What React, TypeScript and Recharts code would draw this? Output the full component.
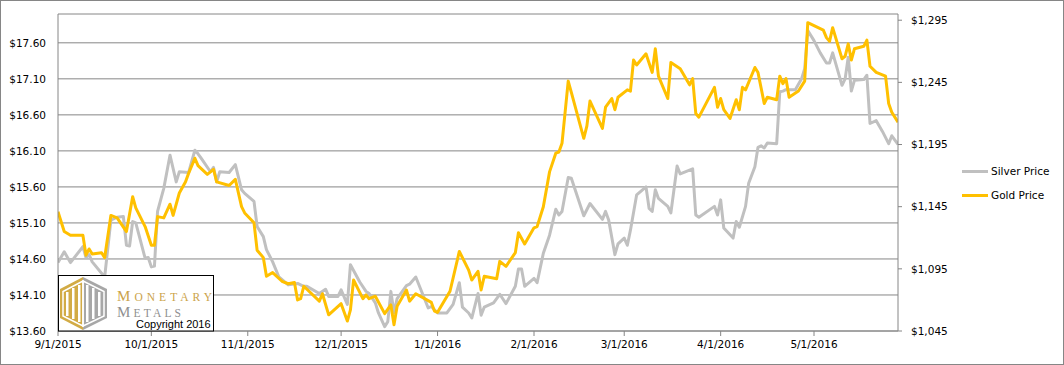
import React from "react";
import { LineChart, Line, XAxis, YAxis, CartesianGrid } from "recharts";

// Day offsets are days since 9/1/2015
const START = Date.UTC(2015, 8, 1);
const tickLabels = ["9/1/2015", "10/1/2015", "11/1/2015", "12/1/2015", "1/1/2016", "2/1/2016", "3/1/2016", "4/1/2016", "5/1/2016"];
const silverTicks = [13.6, 14.1, 14.6, 15.1, 15.6, 16.1, 16.6, 17.1, 17.6];
const goldTicks = [1045, 1095, 1145, 1195, 1245, 1295];

const silverDays = [0,2,4,8,9,10,11,15,17,19,21,22,23,24,25,28,29,30,31,32,34,36,38,39,42,44,45,46,49,50,51,52,55,57,59,60,63,64,66,67,69,71,74,77,79,80,84,86,87,90,91,93,94,97,99,100,102,103,105,106,107,108,109,112,113,115,119,120,122,125,127,129,130,132,133,135,136,137,140,142,144,147,148,149,150,153,154,156,158,160,161,162,164,165,169,171,175,176,177,179,180,182,183,184,186,189,190,191,192,193,196,197,199,200,204,205,206,211,212,213,214,217,218,219,221,222,224,225,226,227,228,231,232,233,234,237,239,240,241,243,245,247,248,249,252,253,254,255,256,259,260,261,263,265,267,268,270];
const silverPrices = [14.55,14.70,14.55,14.77,14.62,14.66,14.56,14.35,15.14,15.18,15.19,14.79,14.78,15.12,15.10,14.61,14.62,14.49,14.50,15.26,15.58,16.04,15.67,15.81,15.80,16.11,16.06,16.00,15.81,15.87,15.67,15.81,15.80,15.91,15.56,15.51,15.40,15.05,14.91,14.73,14.56,14.35,14.24,14.26,14.22,14.22,14.12,14.18,14.08,14.08,14.17,13.97,14.52,14.28,14.15,14.12,13.99,13.85,13.66,13.73,14.15,13.85,14.05,14.23,14.25,14.35,13.92,13.94,13.85,13.85,13.97,14.27,13.93,13.85,13.78,14.12,13.82,13.93,13.99,14.11,13.98,14.22,14.46,14.46,14.22,14.33,14.27,14.68,14.93,15.29,15.21,15.26,15.73,15.72,15.20,15.37,15.15,15.26,15.14,14.66,14.81,14.89,14.79,15.00,15.49,15.60,15.30,15.26,15.56,15.44,15.33,15.24,15.89,15.78,15.85,15.21,15.18,15.33,15.21,15.42,15.03,14.89,15.12,15.04,15.33,15.65,15.88,16.15,16.17,16.14,16.21,16.20,16.92,16.93,16.95,16.95,17.10,17.24,17.77,17.63,17.46,17.32,17.32,17.46,17.01,17.10,17.40,16.93,17.08,17.09,17.15,16.48,16.52,16.37,16.20,16.31,16.19];

const goldDays = [0,2,4,8,9,10,11,14,15,17,19,22,24,25,28,30,31,32,34,36,37,39,41,42,44,45,48,50,51,55,57,59,60,63,64,66,67,69,72,74,76,77,78,79,84,85,87,91,93,94,95,98,99,100,102,105,107,108,109,112,113,115,120,121,122,126,129,132,133,135,136,137,141,142,144,147,148,150,153,154,156,158,160,161,162,164,165,169,170,171,175,176,178,179,180,183,184,185,186,189,191,192,193,196,197,200,203,204,205,206,211,212,213,214,216,218,219,220,221,224,225,227,228,231,232,233,234,235,238,240,241,246,247,248,249,252,253,254,255,256,259,260,261,263,266,267,268,270];
const goldPrices = [1141,1125,1122,1122,1106,1111,1107,1108,1104,1138,1136,1125,1153,1144,1129,1114,1114,1137,1136,1147,1138,1156,1165,1172,1184,1178,1171,1175,1165,1162,1167,1145,1140,1132,1110,1104,1089,1092,1085,1083,1084,1070,1071,1081,1069,1075,1058,1067,1053,1062,1086,1071,1074,1071,1073,1059,1066,1050,1065,1078,1069,1075,1068,1061,1060,1077,1109,1094,1086,1093,1078,1089,1087,1101,1097,1108,1124,1115,1128,1129,1145,1173,1188,1189,1196,1246,1237,1200,1210,1230,1208,1225,1232,1223,1233,1239,1238,1263,1259,1268,1253,1272,1250,1232,1261,1256,1243,1248,1220,1217,1241,1225,1232,1223,1216,1231,1223,1241,1239,1257,1253,1228,1233,1231,1250,1244,1248,1233,1238,1246,1293,1287,1281,1278,1289,1264,1266,1276,1263,1272,1274,1279,1258,1253,1250,1228,1221,1213];

const toDay = (label: string) => {
  const [m, d, y] = label.split("/").map(Number);
  return Math.round((Date.UTC(y, m - 1, d) - START) / 86400000);
};
const tickDays = tickLabels.map(toDay);
const silverData = silverDays.map((d, i) => ({ d, v: silverPrices[i] }));
const goldData = goldDays.map((d, i) => ({ d, v: goldPrices[i] }));

const AXIS = "#868686";
const FONT = "'DejaVu Sans', Verdana, sans-serif";
const SERIF = "'Liberation Serif', 'Times New Roman', serif";
const tickStyle = { fontSize: 10.5, fill: "#000", fontFamily: FONT };

function Logo() {
  return (
    <svg width={156} height={57} style={{ position: "absolute", left: 58, top: 275 }}>
      <rect x={0.5} y={0.5} width={155} height={55.5} fill="#fff" stroke="#000" strokeWidth={1} />
      <polygon points="25,2 2,14 2,43 25,55" fill="#D2AB45" />
      <polygon points="25,2 49,14 49,43 25,55" fill="#A7A7A7" />
      <polygon points="25,6 5,16.5 5,41 25,51" fill="none" stroke="#fff" strokeWidth={1.5} />
      <polygon points="25,6 46,16.5 46,41 25,51" fill="none" stroke="#fff" strokeWidth={1.5} />
      <rect x={8} y={17} width={2.5} height={24} fill="#fff" />
      <rect x={14} y={13} width={2.5} height={31} fill="#fff" />
      <rect x={20} y={10} width={2.5} height={37} fill="#fff" />
      <rect x={28} y={10} width={2.5} height={37} fill="#fff" />
      <rect x={34} y={13} width={2.5} height={31} fill="#fff" />
      <rect x={40} y={17} width={2.5} height={24} fill="#fff" />
      <text x={59} y={25.5} textLength={95} lengthAdjust="spacing" fill="#CBA34A" style={{ fontFamily: SERIF }}>
        <tspan fontSize={15}>M</tspan><tspan fontSize={11.5}>ONETARY</tspan>
      </text>
      <text x={59} y={41.5} textLength={64} lengthAdjust="spacing" fill="#8F8F8F" style={{ fontFamily: SERIF }}>
        <tspan fontSize={15}>M</tspan><tspan fontSize={11.5}>ETALS</tspan>
      </text>
      <text x={78} y={53} fill="#000" style={{ fontFamily: "'Liberation Sans', Arial, sans-serif", fontSize: 11 }}>Copyright 2016</text>
    </svg>
  );
}

function LegendBox() {
  const items = [
    { label: "Silver Price", color: "#C0C0C0", y: 171 },
    { label: "Gold Price", color: "#FFC000", y: 195 },
  ];
  return (
    <>
      {items.map((it) => (
        <div key={it.label} style={{ position: "absolute", left: 962, top: it.y - 8, height: 16, display: "flex", alignItems: "center" }}>
          <div style={{ width: 26, height: 3, background: it.color }} />
          <span style={{ marginLeft: 3, fontFamily: FONT, fontSize: 10.5, color: "#000", whiteSpace: "nowrap" }}>{it.label}</span>
        </div>
      ))}
    </>
  );
}

export default function App() {
  return (
    <div style={{ position: "absolute", left: 0, top: 0, width: 1064, height: 365, background: "#fff", fontFamily: FONT }}>
      <LineChart width={1064} height={365} data={silverData} margin={{ top: 14, right: 86, bottom: 4, left: 8 }}>
        <CartesianGrid yAxisId="s" vertical={false} horizontal={true} stroke={AXIS} strokeWidth={1} />
        <XAxis
          dataKey="d"
          type="number"
          domain={[0, 270]}
          ticks={tickDays}
          allowDataOverflow
          tickFormatter={(v: number) => tickLabels[tickDays.indexOf(v)] ?? ""}
          stroke={AXIS}
          tick={tickStyle}
          tickSize={5}
          tickMargin={5}
          height={30}
          interval={0}
        />
        <YAxis
          yAxisId="s"
          orientation="left"
          domain={[13.6, 18.0]}
          ticks={silverTicks}
          allowDataOverflow
          tickFormatter={(v: number) => `$${v.toFixed(2)}`}
          stroke={AXIS}
          tickLine={false}
          tickSize={0}
          tickMargin={12}
          tick={tickStyle}
          width={50}
          interval={0}
        />
        <YAxis
          yAxisId="g"
          orientation="right"
          domain={[1045, 1300]}
          ticks={goldTicks}
          allowDataOverflow
          tickFormatter={(v: number) => `$${v.toLocaleString("en-US")}`}
          stroke={AXIS}
          tickSize={4}
          tickMargin={9}
          tick={tickStyle}
          width={80}
          interval={0}
        />
        <Line yAxisId="s" data={silverData} dataKey="v" type="linear" stroke="#C0C0C0" strokeWidth={3} dot={false} isAnimationActive={false} strokeLinejoin="round" />
        <Line yAxisId="g" data={goldData} dataKey="v" type="linear" stroke="#FFC000" strokeWidth={3} dot={false} isAnimationActive={false} strokeLinejoin="round" />
      </LineChart>
      <Logo />
      <LegendBox />
      <div style={{ position: "absolute", left: 0, top: 0, width: 1064, height: 365, boxSizing: "border-box", border: `1px solid ${AXIS}`, pointerEvents: "none" }} />
    </div>
  );
}
